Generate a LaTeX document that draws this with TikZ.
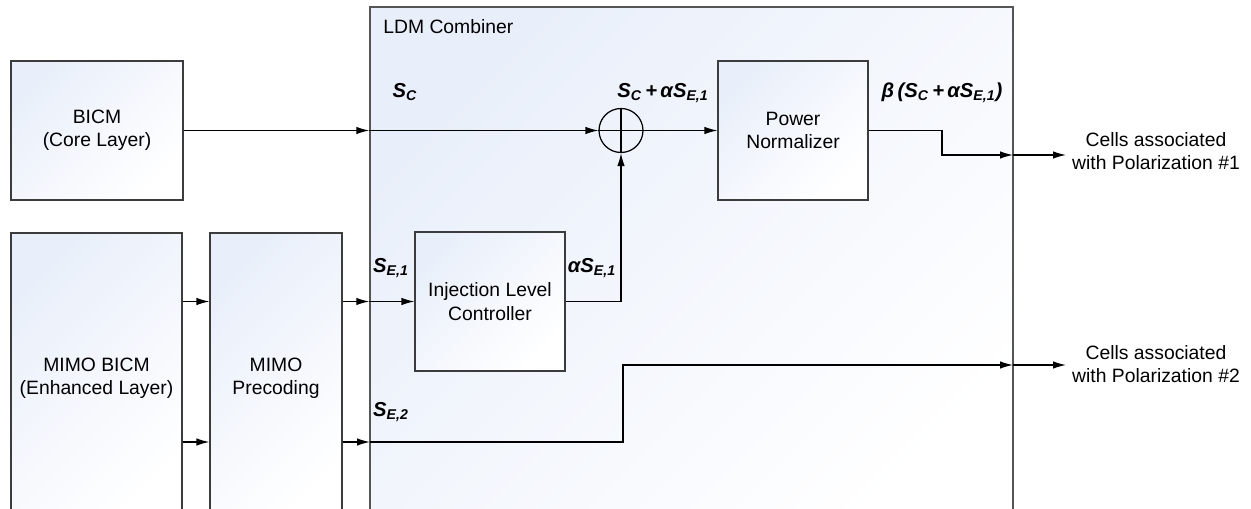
\documentclass[tikz,border=0pt]{standalone}
\usepackage{fontspec}
\setmainfont{Liberation Sans}
\usetikzlibrary{arrows.meta, positioning, calc}
\definecolor{boxtint}{RGB}{233,239,250}
\definecolor{edgegray}{RGB}{60,60,60}
\definecolor{framegray}{RGB}{85,85,85}

\tikzset{
  block/.style={draw=edgegray, line width=0.7pt, top color=boxtint, bottom color=white,
    shading angle=45, align=center, inner sep=0pt, font=\fontsize{11}{13.2}\selectfont},
  arr/.style={-{Latex[length=2.6mm,width=1.5mm]}, line width=0.7pt},
  sig/.style={font=\fontsize{11.5}{13}\selectfont\bfseries\itshape, inner sep=0pt},
  plain/.style={align=center, font=\fontsize{11}{13.2}\selectfont},
}

\begin{document}
\begin{tikzpicture}[x=0.02cm, y=-0.02cm]
\useasboundingbox (0,0) rectangle (1251,509);
\clip (0,0) rectangle (1251,509);

% combiner frame
\node[block, draw=framegray, line width=0.9pt, minimum width=12.86cm, minimum height=10.66cm] (ldm) at (691.5,273.5) {};
\node[plain, anchor=west, inner sep=0pt] (ldmlabel) at (383,27) {LDM Combiner};

% source blocks
\node[block, minimum width=3.44cm, minimum height=2.78cm] (bicm) at (97,130.5) {BICM\\(Core Layer)};
\node[block, minimum width=3.42cm, minimum height=5.8cm] (mimobicm) at (96.5,378) {MIMO BICM\\(Enhanced Layer)};
\node[block, minimum width=2.64cm, minimum height=5.8cm] (precoding) at (276,378) {MIMO\\Precoding};

% inside the combiner
\node[block, minimum width=3cm, minimum height=2.78cm] (inject) at (490,301.5) {Injection Level\\Controller};
\node[block, minimum width=3cm, minimum height=2.78cm] (power) at (793,130.5) {Power\\Normalizer};
\node[draw, circle, line width=0.7pt, minimum size=0.88cm, inner sep=0pt] (sum) at (621,130.5) {};
\draw[line width=0.7pt] (sum.north) -- (sum.south) (sum.west) -- (sum.east);

% ports and bends
\coordinate (se2) at (370,442);
\coordinate (bend1) at (942,130.5);
\coordinate (bend2) at (623,365);
\coordinate (o1) at (1013,155);
\coordinate (o2) at (1013,365);

% outputs
\node[plain] (out1) at (1156,151) {Cells associated\\with Polarization \#1};
\node[plain] (out2) at (1156,364) {Cells associated\\with Polarization \#2};

% signals
\draw[arr] (bicm.east) -- (bicm.east -| ldm.west);
\draw[arr] (bicm.east -| ldm.west) -- (sum.west);
\draw[arr] (mimobicm.east |- inject.west) -- (precoding.west |- inject.west);
\draw[arr] (mimobicm.east |- se2) -- (precoding.west |- se2);
\draw[arr] (precoding.east |- inject.west) -- (ldm.west |- inject.west);
\draw[arr] (ldm.west |- inject.west) -- (inject.west);
\draw[arr] (precoding.east |- se2) -- (se2);
\draw[arr] (inject.east) -| (sum.south);
\draw[arr] (sum.east) -- (power.west);
\draw[arr] (power.east) -- (bend1) |- (o1);
\draw[arr] (o1) -- (o1 -| out1.west);
\draw[arr] (se2) -| (bend2) -- (o2);
\draw[arr] (o2) -- (o2 -| out2.west);

% labels
\node[sig] (lsc) at (405,92) {S\textsubscript{C}};
\node[sig] (lsum) at (663,93) {S\textsubscript{C}\,+\,αS\textsubscript{E,1}};
\node[sig] (lbeta) at (942,93) {β\,(S\textsubscript{C}\,+\,αS\textsubscript{E,1})};
\node[sig] (lse1) at (391,268) {S\textsubscript{E,1}};
\node[sig] (lase1) at (592,268) {αS\textsubscript{E,1}};
\node[sig] (lse2) at (391,412) {S\textsubscript{E,2}};
\end{tikzpicture}
\end{document}
